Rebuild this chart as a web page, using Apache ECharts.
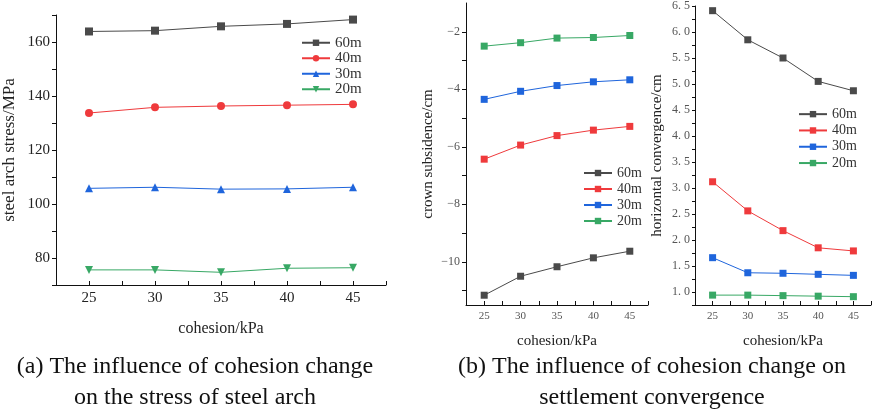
<!DOCTYPE html>
<html>
<head>
<meta charset="utf-8">
<script src="https://cdn.jsdelivr.net/npm/echarts@6/dist/echarts.min.js"></script>
<style>
  html, body { margin: 0; padding: 0; background: #fff; }
  #chart { width: 874px; height: 414px; }
</style>
</head>
<body>
<div id="chart"></div>
<script>
// cohesion values (kPa)
const cohesion = [25, 30, 35, 40, 45];
const seriesNames = ["60m", "40m", "30m", "20m"];
const colors = ["#4a4a4a", "#ef3a3c", "#1f65dc", "#38a865"];

// (a) steel arch stress / MPa
const stress60 = [163.9, 164.2, 165.8, 166.7, 168.3];
const stress40 = [133.7, 135.8, 136.3, 136.6, 136.9];
const stress30 = [105.8, 106.2, 105.5, 105.6, 106.2];
const stress20 = [75.6, 75.6, 74.7, 76.2, 76.4];

// (b) crown subsidence / cm
const crown60 = [-11.16, -10.5, -10.17, -9.86, -9.63];
const crown40 = [-6.43, -5.94, -5.61, -5.42, -5.29];
const crown30 = [-4.35, -4.07, -3.87, -3.74, -3.67];
const crown20 = [-2.5, -2.38, -2.22, -2.2, -2.13];

// (b) horizontal convergence / cm
const conv60 = [6.41, 5.85, 5.5, 5.05, 4.87];
const conv40 = [3.12, 2.56, 2.18, 1.85, 1.79];
const conv30 = [1.66, 1.37, 1.36, 1.34, 1.32];
const conv20 = [0.94, 0.94, 0.93, 0.92, 0.91];

const serif = "Liberation Serif";
const chart = echarts.init(document.getElementById("chart"));

function pairs(vals) {
  return cohesion.map((c, i) => [c, vals[i]]);
}

function xAxis(gridIndex, fontSize, nameSize, nameGap, color) {
  return {
    type: "value",
    gridIndex: gridIndex,
    min: 22.5,
    max: 47.5,
    interval: 2.5,
    name: "cohesion/kPa",
    nameLocation: "middle",
    nameGap: nameGap,
    nameTextStyle: { fontFamily: serif, fontSize: nameSize, color: "#222" },
    axisLine: { lineStyle: { color: "#111", width: 1 } },
    axisTick: { inside: true, length: 4, lineStyle: { color: "#111" } },
    axisLabel: {
      fontFamily: serif, fontSize: fontSize, color: color, margin: 6,
      formatter: (v) => (v % 5 === 0 ? String(v) : ""),
    },
    splitLine: { show: false },
  };
}

// prefix keeps each panel's legend tied to its own series
function makeSeries(prefix, idx, data, symbols, size) {
  return seriesNames.map((n, i) => ({
    name: prefix + n,
    type: "line",
    xAxisIndex: idx,
    yAxisIndex: idx,
    data: pairs(data[i]),
    symbol: symbols[i] === "down" ? "triangle" : symbols[i],
    symbolRotate: symbols[i] === "down" ? 180 : 0,
    symbolSize: size,
    showSymbol: true,
    lineStyle: { color: colors[i], width: 1 },
    itemStyle: { color: colors[i] },
  }));
}

function legend(prefix, left, top, fontSize, lineHeight) {
  return {
    left: left,
    top: top,
    orient: "vertical",
    itemWidth: 28,
    itemHeight: 8,
    itemGap: 0,
    padding: 0,
    data: seriesNames.map((n) => prefix + n),
    formatter: (n) => n.slice(1),
    textStyle: { fontFamily: serif, fontSize: fontSize, lineHeight: lineHeight, color: "#333" },
  };
}

const option = {
  backgroundColor: "#fff",
  animation: false,
  grid: [
    { left: 55, top: 15, width: 331, height: 270 },
    { left: 466, top: 3, width: 182, height: 302 },
    { left: 695, top: 3, width: 178, height: 302 },
  ],
  xAxis: [xAxis(0, 15, 16, 36, "#222"), xAxis(1, 11, 15, 29, "#555"), xAxis(2, 11, 15, 29, "#555")],
  yAxis: [
    {
      type: "value", gridIndex: 0, min: 70, max: 170, interval: 10,
      name: "steel arch stress/MPa", nameLocation: "middle", nameGap: 38,
      nameTextStyle: { fontFamily: serif, fontSize: 17, color: "#222" },
      axisLine: { show: true, lineStyle: { color: "#111" } },
      axisTick: { length: 4, lineStyle: { color: "#111" } },
      axisLabel: {
        fontFamily: serif, fontSize: 15, color: "#222", margin: 6,
        formatter: (v) => (v % 20 === 0 ? String(v) : ""),
      },
      splitLine: { show: false },
    },
    {
      type: "value", gridIndex: 1, min: -11.5, max: -1, interval: 0.5,
      name: "crown subsidence/cm", nameLocation: "middle", nameGap: 30,
      nameTextStyle: { fontFamily: serif, fontSize: 15, color: "#222" },
      axisLine: { show: true, lineStyle: { color: "#111" } },
      axisTick: { length: 4, lineStyle: { color: "#111" }, customValues: [-11, -10, -9, -8, -7, -6, -5, -4, -3, -2] },
      axisLabel: {
        fontFamily: serif, fontSize: 12, color: "#555", margin: 6,
        customValues: [-10, -8, -6, -4, -2],
        formatter: (v) => String(v).replace("-", "\u2212"),
      },
      splitLine: { show: false },
    },
    {
      type: "value", gridIndex: 2, min: 0.75, max: 6.5, interval: 0.25,
      name: "horizontal convergence/cm", nameLocation: "middle", nameGap: 30,
      nameTextStyle: { fontFamily: serif, fontSize: 15, color: "#222" },
      axisLine: { show: true, lineStyle: { color: "#111" } },
      axisTick: { length: 3, lineStyle: { color: "#111" } },
      axisLabel: {
        fontFamily: serif, fontSize: 12, color: "#555", margin: 5,
        formatter: (v) => (Math.abs(v * 2 - Math.round(v * 2)) < 1e-6 ? v.toFixed(1).replace(".", ". ") : ""),
      },
      splitLine: { show: false },
    },
  ],
  legend: [
    legend("a", 301, 35, 15, 15.5),
    legend("b", 583, 165, 14, 16),
    legend("c", 798, 106, 14, 16.3),
  ],
  series: [].concat(
    makeSeries("a", 0, [stress60, stress40, stress30, stress20], ["rect", "circle", "triangle", "down"], 8),
    makeSeries("b", 1, [crown60, crown40, crown30, crown20], ["rect", "rect", "rect", "rect"], 7),
    makeSeries("c", 2, [conv60, conv40, conv30, conv20], ["rect", "rect", "rect", "rect"], 7)
  ),
  graphic: [
    { type: "text", x: 195, y: 367, style: { text: "(a) The influence of cohesion change", fontFamily: serif, fontSize: 24, fill: "#111", align: "center", verticalAlign: "middle" } },
    { type: "text", x: 195, y: 398, style: { text: "on the stress of steel arch", fontFamily: serif, fontSize: 24, fill: "#111", align: "center", verticalAlign: "middle" } },
    { type: "text", x: 652, y: 367, style: { text: "(b) The influence of cohesion change on", fontFamily: serif, fontSize: 24, fill: "#111", align: "center", verticalAlign: "middle" } },
    { type: "text", x: 652, y: 398, style: { text: "settlement convergence", fontFamily: serif, fontSize: 24, fill: "#111", align: "center", verticalAlign: "middle" } },
  ],
};

chart.setOption(option);
</script>
</body>
</html>
